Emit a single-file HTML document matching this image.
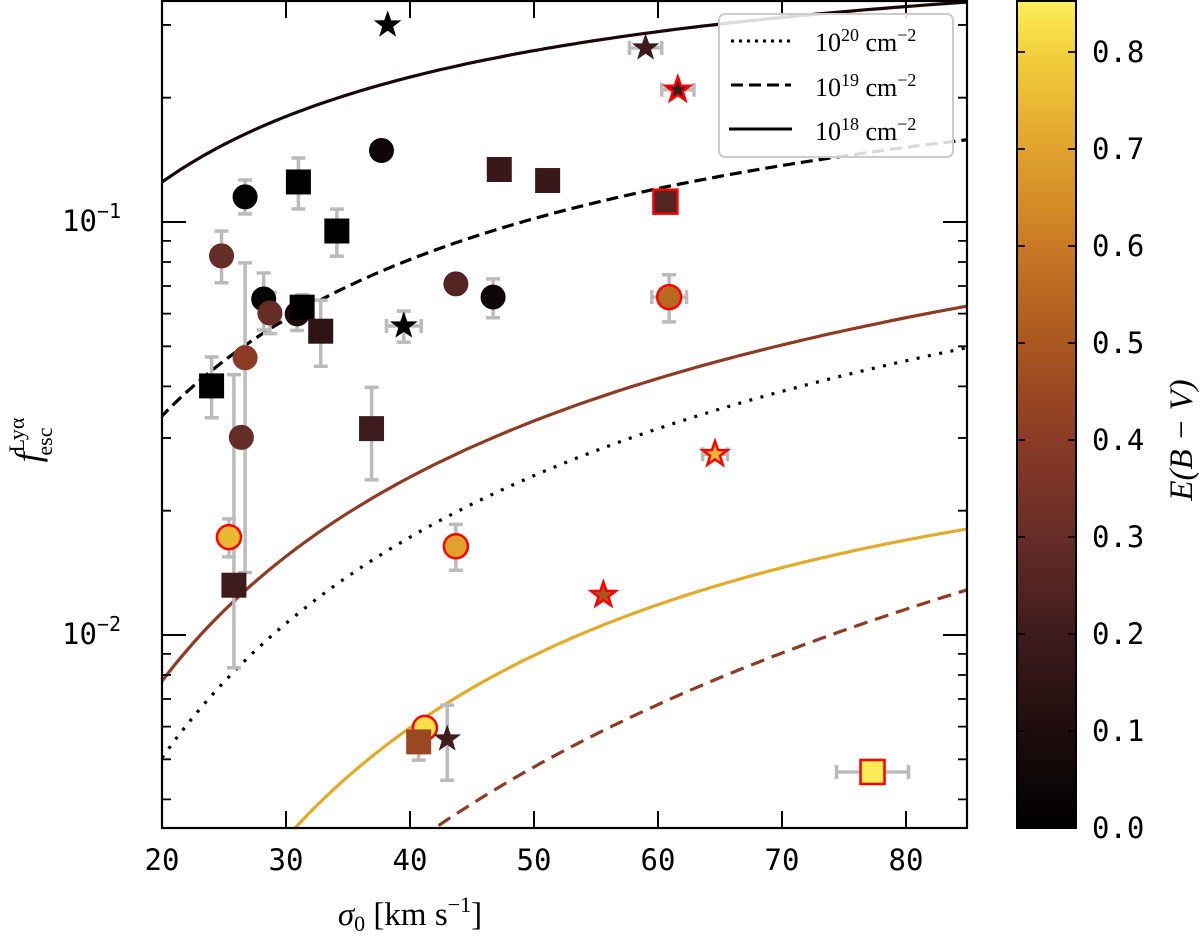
<!DOCTYPE html>
<html><head><meta charset="utf-8">
<style>
html,body{margin:0;padding:0;background:#fff;}
svg{display:block;}
.tk{font-family:"DejaVu Sans Mono","Liberation Mono",monospace;font-size:29px;fill:#000;}
.sf{font-family:"Liberation Serif","DejaVu Serif",serif;fill:#000;}
</style></head>
<body>
<svg id="chart" width="1200" height="944" viewBox="0 0 1200 944" xmlns="http://www.w3.org/2000/svg">
<defs>
<linearGradient id="cmap" x1="0" y1="1" x2="0" y2="0">
<stop offset="0" stop-color="#000000"/>
<stop offset="0.117" stop-color="#1e0d0d"/>
<stop offset="0.234" stop-color="#3e1b1c"/>
<stop offset="0.351" stop-color="#662c27"/>
<stop offset="0.468" stop-color="#8a3a25"/>
<stop offset="0.585" stop-color="#a9561f"/>
<stop offset="0.702" stop-color="#c97924"/>
<stop offset="0.819" stop-color="#e0a22c"/>
<stop offset="0.936" stop-color="#f2cf3c"/>
<stop offset="1" stop-color="#fbef5a"/>
</linearGradient>
<clipPath id="plotclip"><rect x="162" y="0" width="805" height="828"/></clipPath>
</defs>
<g id="curves" clip-path="url(#plotclip)"></g>
<g id="errs"></g>
<g id="marks"></g>
<g id="axes"></g>
<g id="legend">
<rect x="719" y="14" width="234" height="143" rx="6" fill="#fff" fill-opacity="0.85" stroke="#ccc" stroke-width="2"/>
<line x1="731" y1="41" x2="791" y2="41" stroke="#000" stroke-width="3" stroke-dasharray="3,5"/>
<text x="815" y="51" class="sf" font-size="26">10<tspan dy="-10" font-size="18">20</tspan><tspan dy="10"> cm</tspan><tspan dy="-10" font-size="18">−2</tspan></text>
<line x1="731" y1="85" x2="791" y2="85" stroke="#000" stroke-width="3" stroke-dasharray="12,6"/>
<text x="815" y="96" class="sf" font-size="26">10<tspan dy="-10" font-size="18">19</tspan><tspan dy="10"> cm</tspan><tspan dy="-10" font-size="18">−2</tspan></text>
<line x1="729" y1="129" x2="792" y2="129" stroke="#000" stroke-width="3"/>
<text x="815" y="140" class="sf" font-size="26">10<tspan dy="-10" font-size="18">18</tspan><tspan dy="10"> cm</tspan><tspan dy="-10" font-size="18">−2</tspan></text>
</g>
<g id="cbar">
<rect x="1017" y="1" width="59" height="827" fill="url(#cmap)" stroke="#000" stroke-width="2"/>
</g>
<text class="sf" font-size="33" font-style="italic" transform="translate(1192,440) rotate(-90)" text-anchor="middle">E(B − V)</text>
<text class="sf" font-size="33" x="410" y="925" text-anchor="middle"><tspan font-style="italic">σ</tspan><tspan font-size="22" dy="6">0</tspan><tspan dy="-6"> [km s</tspan><tspan font-size="22" dy="-13">−1</tspan><tspan dy="13">]</tspan></text>
<text class="sf" font-size="36" transform="translate(40,440) rotate(-90)" text-anchor="middle"><tspan font-style="italic">f</tspan><tspan font-size="22" dy="-16">Lyα</tspan><tspan font-size="22" dx="-38" dy="28">esc</tspan></text>
</svg>
<script>
// ---- data ----
const sigma = [38.2,37.7,26.7,31.0,34.1,24.8,28.2,28.7,30.9,31.3,32.8,39.5,43.7,46.7,24.0,26.7,26.4,36.9,47.2,51.1,59.0,61.6,60.6,60.9,25.4,25.8,43.7,41.2,40.7,43.0,64.6,55.6,77.3];
const fesc  = [0.300,0.149,0.115,0.125,0.0951,0.0828,0.0651,0.0602,0.0599,0.0622,0.0544,0.056,0.0708,0.0658,0.0401,0.0469,0.0301,0.0316,0.134,0.126,0.264,0.209,0.112,0.0658,0.01726,0.0132,0.0164,0.00596,0.00551,0.0056,0.0274,0.0125,0.00466];
const ebv   = [0.0,0.05,0.02,0.0,0.0,0.3,0.02,0.3,0.1,0.0,0.15,0.0,0.25,0.05,0.0,0.4,0.3,0.2,0.18,0.18,0.2,0.2,0.25,0.55,0.75,0.2,0.7,0.83,0.45,0.2,0.75,0.5,0.85];
const shape = ["star","circle","circle","square","square","circle","circle","circle","circle","square","square","star","circle","circle","square","circle","circle","square","square","square","star","star","square","circle","circle","square","circle","circle","square","star","star","star","square"];
const redEdge = [0,0,0,0,0,0,0,0,0,0,0,0,0,0,0,0,0,0,0,0,0,1,1,1,1,0,1,1,0,0,1,1,1];
const errUpDex = [0,0,0.041,0.058,0.053,0.06,0.063,0.05,0.04,0.03,0.075,0.036,0,0.044,0.07,0.23,0,0.1,0,0,0,0,0,0.054,0.044,0.51,0.053,0,0,0.082,0,0,0];
const errDnDex = [0,0,0.041,0.065,0.061,0.065,0.075,0.05,0.04,0.03,0.085,0.039,0,0.05,0.077,0.52,0,0.124,0,0,0,0,0,0.06,0.048,0.2,0.058,0,0.044,0.1,0,0,0];
const errX = [0,0,0,0,0,0,0,0,0,0,0,1.4,0,0,0,0,0,0,0,0,1.3,1.3,0,1.4,0,0,0,0,0,0,1.0,0,2.9];
// model curves: sigma samples and escape fractions
const curveNames = ["solid-black-1e18","dashed-black-1e19","solid-brown","dotted-black-1e20","solid-yellow","dashed-brown"];
const curveSigma = [
 [20,27.1,51.3,64.8,85],
 [20,26.5,31.1,51.3,60.6,85],
 [20,30,41.6,51.3,64.8,85],
 [20,26.3,33.8,43.2,51.3,56.7,85],
 [30.9,40.6,51.3,67.4,85],
 [42.4,51.3,67.4,85]];
const curveF = [
 [0.1243,0.167,0.261,0.303,0.341],
 [0.0337,0.0482,0.0648,0.102,0.1195,0.1607],
 [0.00766,0.01563,0.02625,0.0343,0.0431,0.0647],
 [0.00504,0.00837,0.01337,0.0193,0.0251,0.0292,0.0498],
 [0.00343,0.00622,0.00935,0.01359,0.01826],
 [0.00343,0.00518,0.00822,0.0130]];
const curveColor = ["#1a0808","#000","#8f3b22","#000","#e4ab2a","#8f3b22"];
const curveDash = ["","12,6","","3,8.5","","14,8"];
const xTicks = [20,30,40,50,60,70,80];
const yMajor = [0.01,0.1];
const yMajorLabel = ["2","1"];
const yMinor = [0.004,0.005,0.006,0.007,0.008,0.009,0.02,0.03,0.04,0.05,0.06,0.07,0.08,0.09,0.2,0.3];
const cbTicks = [0,0.1,0.2,0.3,0.4,0.5,0.6,0.7,0.8];

// ---- scales ----
const X0=162,X1=967,Y0=0,Y1=828;
const sx = s => 162 + (s-20)*12.4;
const sy = f => 222 - (Math.log10(f)+1)*413;
const cy = v => 828 - v*970;
const NS="http://www.w3.org/2000/svg";
function mk(tag,attrs,parent){const e=document.createElementNS(NS,tag);for(const k in attrs)e.setAttribute(k,attrs[k]);parent.appendChild(e);return e;}
const stops=[[0,[0,0,0]],[0.1,[30,13,13]],[0.2,[62,27,28]],[0.3,[102,44,39]],[0.4,[138,58,37]],[0.5,[169,86,31]],[0.6,[201,121,36]],[0.7,[224,162,44]],[0.8,[242,207,60]],[0.855,[251,239,90]]];
function cmap(v){for(let i=1;i<stops.length;i++){if(v<=stops[i][0]){const a=stops[i-1],b=stops[i];const t=(v-a[0])/(b[0]-a[0]);const c=a[1].map((q,j)=>Math.round(q+(b[1][j]-q)*t));return `rgb(${c})`;}}return "rgb(251,239,90)";}

// quadratic least-squares fit of log f vs log sigma
function fitQuad(xs,ys){
  const n=xs.length;let S=[[0,0,0],[0,0,0],[0,0,0]],b=[0,0,0];
  for(let i=0;i<n;i++){const p=[1,xs[i],xs[i]*xs[i]];for(let r=0;r<3;r++){b[r]+=p[r]*ys[i];for(let c=0;c<3;c++)S[r][c]+=p[r]*p[c];}}
  // gaussian elimination
  for(let k=0;k<3;k++){for(let r=k+1;r<3;r++){const m=S[r][k]/S[k][k];for(let c=k;c<3;c++)S[r][c]-=m*S[k][c];b[r]-=m*b[k];}}
  const x=[0,0,0];for(let r=2;r>=0;r--){let s=b[r];for(let c=r+1;c<3;c++)s-=S[r][c]*x[c];x[r]=s/S[r][r];}
  return x;
}

// ---- curves ----
const gC=document.getElementById('curves');
curveSigma.forEach((xs,i)=>{
  const lx=xs.map(v=>Math.log10(v)), ly=curveF[i].map(v=>Math.log10(v));
  const c=fitQuad(lx,ly);
  const s0=Math.min(...xs)-3, s1=86;
  let d='';
  for(let k=0;k<=120;k++){
    const s=s0+(s1-s0)*k/120, L=Math.log10(s);
    const f=Math.pow(10,c[0]+c[1]*L+c[2]*L*L);
    d+=(k?'L':'M')+sx(s).toFixed(1)+','+sy(f).toFixed(1);
  }
  const p=mk('path',{d:d,fill:'none',stroke:curveColor[i],'stroke-width':3.2,'stroke-dasharray':curveDash[i]},gC);
  
  
});

// ---- error bars ----
const gE=document.getElementById('errs');
sigma.forEach((s,i)=>{
  const x=sx(s),y=sy(fesc[i]);
  const st={stroke:'#bbb','stroke-width':3.5};
  if(errUpDex[i]||errDnDex[i]){
    const yt=y-errUpDex[i]*413, yb=y+errDnDex[i]*413;
    const l=mk('path',Object.assign({d:`M${x},${yt}V${yb}M${x-7},${yt}H${x+7}M${x-7},${yb}H${x+7}`,fill:'none'},st),gE);
    
    
  }
  if(errX[i]){
    const xl=sx(s-errX[i]),xr=sx(s+errX[i]);
    const l=mk('path',Object.assign({d:`M${xl},${y}H${xr}M${xl},${y-7}V${y+7}M${xr},${y-7}V${y+7}`,fill:'none'},st),gE);
    
    
  }
});

// ---- markers ----
const gM=document.getElementById('marks');
function starPath(x,y,R){const r=R*0.4;let d='';for(let k=0;k<10;k++){const a=-Math.PI/2+k*Math.PI/5;const rr=k%2?r:R;d+=(k?'L':'M')+(x+rr*Math.cos(a)).toFixed(1)+','+(y+rr*Math.sin(a)).toFixed(1);}return d+'Z';}
sigma.forEach((s,i)=>{
  const x=sx(s),y=sy(fesc[i]);
  const fill=cmap(ebv[i]);
  const stroke=redEdge[i]?'#ff0000':fill;
  const sw=redEdge[i]?2.5:1;
  let e;
  if(shape[i]==='circle') e=mk('circle',{cx:x,cy:y,r:12,fill:fill,stroke:stroke,'stroke-width':sw},gM);
  else if(shape[i]==='square') e=mk('rect',{x:x-12,y:y-12,width:24,height:24,fill:fill,stroke:stroke,'stroke-width':sw},gM);
  else e=mk('path',{d:starPath(x,y,13),fill:fill,stroke:stroke,'stroke-width':sw},gM);
  
  
});

// ---- axes ----
const gA=document.getElementById('axes');
const fr=mk('rect',{x:X0,y:1,width:X1-X0,height:Y1-1,fill:'none',stroke:'#000','stroke-width':2.2},gA);


xTicks.forEach(v=>{
  const x=sx(v);
  mk('path',{d:`M${x},${Y1}V${Y1-17}M${x},1V18`,stroke:'#000','stroke-width':2},gA);
  const t=mk('text',{x:x,y:870,'text-anchor':'middle',class:'tk'},gA);
  t.textContent=String(v);
  
  
});
yMajor.forEach((v,i)=>{
  const y=sy(v);
  mk('path',{d:`M${X0},${y}H${X0+24}M${X1},${y}H${X1-24}`,stroke:'#000','stroke-width':2},gA);
  const t=mk('text',{x:62,y:y+9,class:'tk'},gA);
  t.innerHTML='10<tspan dy="-13" font-size="20">−'+yMajorLabel[i]+'</tspan>';
  
  
});
yMinor.forEach(v=>{
  const y=sy(v);
  mk('path',{d:`M${X0},${y}H${X0+9}M${X1},${y}H${X1-9}`,stroke:'#000','stroke-width':1.8},gA);
});
const gB=document.getElementById('cbar');
cbTicks.forEach(v=>{
  const y=cy(v);
  mk('path',{d:`M${1076},${y}H${1068}M1017,${y}H1025`,stroke:'#000','stroke-width':1.8},gB);
  const t=mk('text',{x:1092,y:y+10,class:'tk'},gB);
  t.textContent=v.toFixed(1);
  
  
});
</script>
</body></html>
